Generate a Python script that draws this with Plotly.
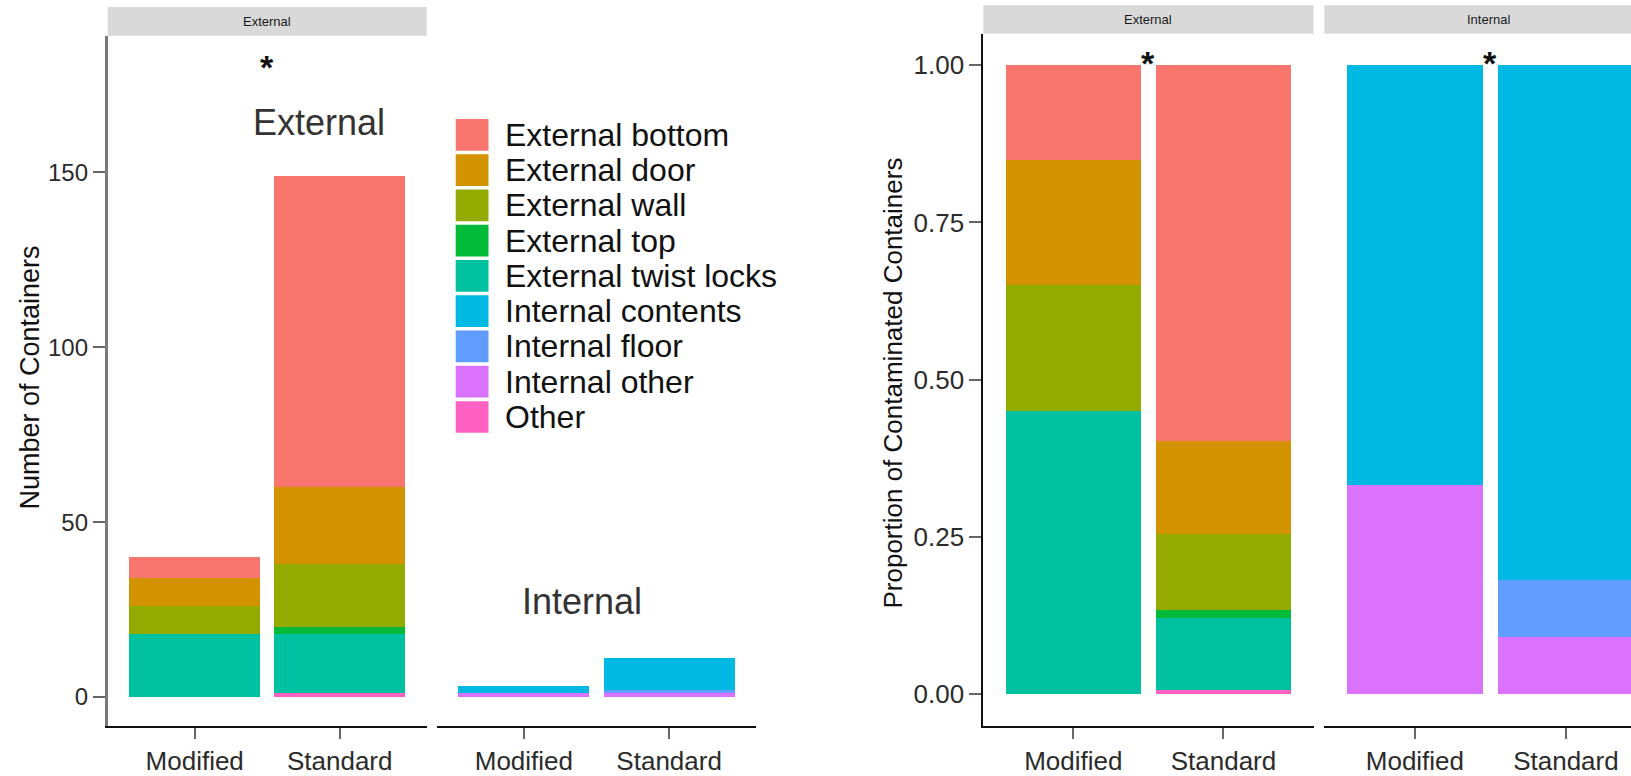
import numpy as np
import plotly.graph_objects as go

W, H = 1631, 776
FONT = "Liberation Sans, Arial, sans-serif"

# ---- data -------------------------------------------------------------
categories = ["Modified", "Standard"]

# stacking order, bottom to top, within each facet
ext_names = ["Other", "External twist locks", "External top",
             "External wall", "External door", "External bottom"]
ext_modified = [0, 18, 0, 8, 8, 6]
ext_standard = [1, 17, 2, 18, 22, 89]

int_names = ["Internal other", "Internal floor", "Internal contents"]
int_modified = [1, 0, 2]
int_standard = [1, 1, 9]

legend_names = ["External bottom", "External door", "External wall",
                "External top", "External twist locks", "Internal contents",
                "Internal floor", "Internal other", "Other"]
legend_colors = ["#F8766D", "#D39200", "#93AA00", "#00BA38", "#00C19F",
                 "#00B9E3", "#619CFF", "#DB72FB", "#FF61C3"]
color_of = dict(zip(legend_names, legend_colors))

count_ticks = [0, 50, 100, 150]
prop_ticks = [0, 0.25, 0.5, 0.75, 1.0]
prop_ticktext = ["0.00", "0.25", "0.50", "0.75", "1.00"]


def px_x(v):
    return v / W


def px_y(v):
    return 1 - v / H


fig = go.Figure()


def add_stack(names, mod, std, xa, ya, normalise):
    mod = np.asarray(mod, dtype=float)
    std = np.asarray(std, dtype=float)
    if normalise:
        mod = mod / mod.sum()
        std = std / std.sum()
    for i, name in enumerate(names):
        fig.add_trace(go.Bar(
            x=categories, y=[mod[i], std[i]], name=name,
            marker=dict(color=color_of[name], line=dict(width=0)),
            width=0.9, xaxis=xa, yaxis=ya, showlegend=False,
            hoverinfo="x+y+name"))


# left: counts, right: proportions
add_stack(ext_names, ext_modified, ext_standard, "x", "y", False)
add_stack(int_names, int_modified, int_standard, "x2", "y2", False)
add_stack(ext_names, ext_modified, ext_standard, "x3", "y3", True)
add_stack(int_names, int_modified, int_standard, "x4", "y4", True)

# ---- axes -------------------------------------------------------------
left_top, left_bot = 36, 732.7
right_top, right_bot = 34, 732.3

xcommon = dict(type="category", showgrid=False, zeroline=False, showline=True,
               linecolor="#111111", linewidth=2.2, ticks="outside", ticklen=11,
               tickwidth=1.5, tickcolor="#666666",
               tickfont=dict(family=FONT, size=26, color="#2B2B2B"),
               fixedrange=True)

fig.update_layout(
    xaxis=dict(xcommon, domain=[px_x(107.7), px_x(426.7)], range=[-0.6, 1.6], anchor="y"),
    xaxis2=dict(xcommon, domain=[px_x(436.7), px_x(756.3)], range=[-0.6, 1.6], anchor="y2"),
    xaxis3=dict(xcommon, domain=[px_x(983.3), px_x(1313.5)], range=[-0.6, 1.6], anchor="y3"),
    xaxis4=dict(xcommon, domain=[px_x(1324.3), 1.0], range=[-0.6, 1.431], anchor="y4"),
    yaxis=dict(domain=[px_y(left_bot), px_y(left_top)], range=[-8.33, 189.1],
               tickvals=count_ticks, showgrid=False, zeroline=False,
               showline=True, linecolor="#7A7A7A", linewidth=2.8,
               ticks="outside", ticklen=12, tickwidth=1.5, tickcolor="#666666",
               tickfont=dict(family=FONT, size=24, color="#2B2B2B"),
               anchor="x", fixedrange=True),
    yaxis2=dict(domain=[px_y(left_bot), px_y(left_top)], matches="y",
                visible=False, anchor="x2"),
    yaxis3=dict(domain=[px_y(right_bot), px_y(right_top)], range=[-0.05, 1.05],
                tickvals=prop_ticks, ticktext=prop_ticktext, showgrid=False,
                zeroline=False, showline=True, linecolor="#111111", linewidth=2,
                ticks="outside", ticklen=12, tickwidth=1.5, tickcolor="#666666",
                tickfont=dict(family=FONT, size=26, color="#2B2B2B"),
                anchor="x3", fixedrange=True),
    yaxis4=dict(domain=[px_y(right_bot), px_y(right_top)], matches="y3",
                visible=False, anchor="x4"),
)

# ---- facet strips -----------------------------------------------------
shapes = []
annotations = []
strips = [(107.7, 426.7, 7, 36, "External", 267),
          (983.3, 1313.5, 5.3, 34, "External", 1148.4),
          (1324.3, W, 5.3, 34, "Internal", 1488)]
for x0, x1, y0, y1, label, cx in strips:
    shapes.append(dict(type="rect", xref="paper", yref="paper",
                       x0=px_x(x0), x1=px_x(x1), y0=px_y(y1), y1=px_y(y0),
                       fillcolor="#D9D9D9", line=dict(width=0), layer="below"))
    annotations.append(dict(xref="paper", yref="paper", x=px_x(cx),
                            y=px_y((y0 + y1) / 2), text=label, showarrow=False,
                            xanchor="center", yanchor="middle",
                            font=dict(family=FONT, size=13, color="#1A1A1A")))

# ---- axis titles ------------------------------------------------------
annotations.append(dict(xref="paper", yref="paper", x=px_x(30), y=px_y(381),
                        text="Number of Containers", textangle=-90,
                        showarrow=False, xanchor="center", yanchor="middle",
                        font=dict(family=FONT, size=27, color="#111111")))
annotations.append(dict(xref="paper", yref="paper", x=px_x(893), y=px_y(386),
                        text="Proportion of Contaminated Containers",
                        textangle=-90, showarrow=False, xanchor="center",
                        yanchor="middle",
                        font=dict(family=FONT, size=26, color="#111111")))

# ---- in-panel labels and significance marks ---------------------------
annotations.append(dict(xref="x", yref="y", x=0.86, y=164.4, text="External",
                        showarrow=False, xanchor="center", yanchor="middle",
                        font=dict(family=FONT, size=36, color="#333333")))
annotations.append(dict(xref="x2", yref="y2", x=0.40, y=27.3, text="Internal",
                        showarrow=False, xanchor="center", yanchor="middle",
                        font=dict(family=FONT, size=36, color="#333333")))
for xr, yr, yv in [("x", "y", 180.0), ("x3", "y3", 1.003), ("x4", "y4", 1.003)]:
    annotations.append(dict(xref=xr, yref=yr, x=0.5, y=yv, text="<b>*</b>",
                            showarrow=False, xanchor="center",
                            yanchor="middle",
                            font=dict(family=FONT, size=34, color="#111111")))

# ---- legend (drawn as swatches + labels) -------------------------------
sw_x0, sw_x1 = 455.7, 488.5
row0, pitch, sw_h = 120, 35.6, 32
for i, name in enumerate(legend_names):
    top = row0 + i * pitch
    shapes.append(dict(type="rect", xref="paper", yref="paper",
                       x0=px_x(sw_x0), x1=px_x(sw_x1),
                       y0=px_y(top + sw_h), y1=px_y(top),
                       fillcolor=legend_colors[i], line=dict(width=0)))
    annotations.append(dict(xref="paper", yref="paper", x=px_x(503),
                            y=px_y(top + sw_h / 2), text=name,
                            showarrow=False, xanchor="left", yanchor="middle",
                            font=dict(family=FONT, size=32, color="#111111")))

fig.update_layout(
    width=W, height=H, autosize=False,
    margin=dict(l=0, r=0, t=0, b=0, pad=0),
    paper_bgcolor="white", plot_bgcolor="white",
    barmode="stack", bargap=0.1,
    showlegend=False,
    shapes=shapes, annotations=annotations,
    font=dict(family=FONT),
)

fig.write_html("out.html", config={"displayModeBar": False})
